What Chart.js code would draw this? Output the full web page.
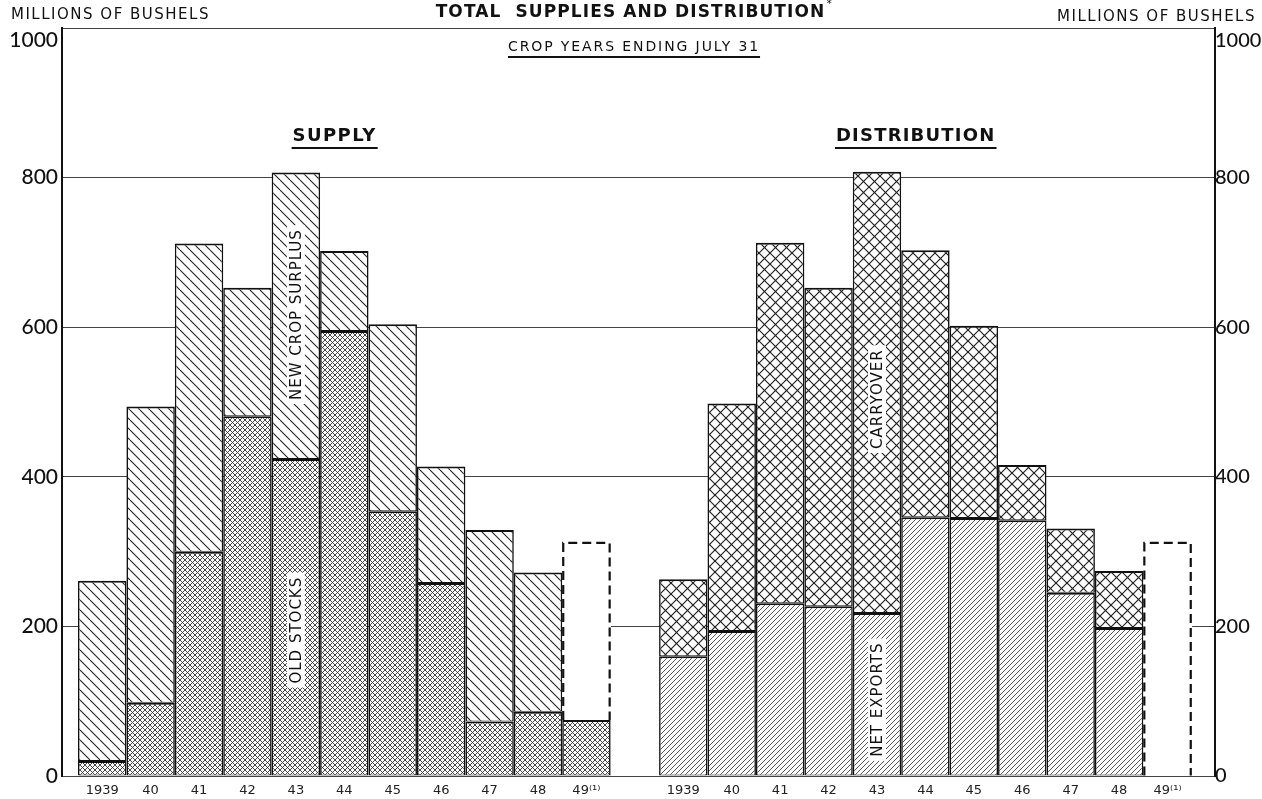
<!DOCTYPE html>
<html>
<head>
<meta charset="utf-8">
<script src="https://cdn.jsdelivr.net/npm/chart.js@4/dist/chart.umd.min.js"></script>
<style>
  html, body { margin: 0; padding: 0; background: #fff; }
  #wrap { width: 1262px; height: 799px; position: relative; }
</style>
</head>
<body>
<div id="wrap"><canvas id="c"></canvas></div>
<script>
// crop years ending July 31, millions of bushels
const categories = ["1939", "40", "41", "42", "43", "44", "45", "46", "47", "48", "49⁽¹⁾"];
const oldStocks      = [20, 98, 300, 481, 424, 595, 354, 258, 73, 86, 75];
const newCropSurplus = [241, 396, 412, 172, 383, 107, 250, 156, 256, 186, null];
const netExports     = [160, 194, 231, 227, 218, 346, 345, 342, 245, 198, null];
const carryover      = [103, 304, 482, 426, 590, 357, 257, 74, 86, 76, null];
const projected49    = 313;   // dashed total for 1949
const yTicks = [0, 200, 400, 600, 800, 1000];

const FONT = "'DejaVu Sans', sans-serif";
const NUMFONT = "Lato, 'Liberation Sans', sans-serif";
const gap = categories.length + 1;          // distribution group starts after one empty slot
const tickPos = categories.map((c, i) => i).concat(categories.map((c, i) => i + gap));
const tickLabels = categories.concat(categories);

function pts(arr, offset) {
  const out = [];
  arr.forEach((v, i) => { if (v !== null) out.push({ x: i + offset, y: v }); });
  return out;
}

const mainCtx = document.getElementById("c").getContext("2d");
function hatch(size, dirs, color, lw) {
  const t = document.createElement("canvas");
  t.width = t.height = size;
  const g = t.getContext("2d");
  g.fillStyle = "#fff";
  g.fillRect(0, 0, size, size);
  g.strokeStyle = color;
  g.lineWidth = lw;
  dirs.forEach(d => {
    [-size, 0, size].forEach(k => {
      g.beginPath();
      if (d === "\\") { g.moveTo(k, 0); g.lineTo(k + size, size); }
      else { g.moveTo(k, size); g.lineTo(k + size, 0); }
      g.stroke();
    });
  });
  return mainCtx.createPattern(t, "repeat");
}

const patSurplus = hatch(10, ["\\"], "#222", 1.1);
const patOld = hatch(5, ["\\", "/"], "#333", 0.9);
const patExports = hatch(5, ["/"], "#444", 0.9);
const patCarry = hatch(11, ["\\", "/"], "#222", 1.2);

const barBorder = { top: 2, bottom: 1, left: 1.6, right: 1.6 };
const common = { borderColor: "#111", borderWidth: barBorder, borderSkipped: false, stack: "all", inflateAmount: 0 };

const data = {
  datasets: [
    Object.assign({ label: "Old stocks", data: pts(oldStocks, 0), backgroundColor: patOld }, common),
    Object.assign({ label: "New crop surplus", data: pts(newCropSurplus, 0), backgroundColor: patSurplus }, common),
    Object.assign({ label: "Net exports", data: pts(netExports, gap), backgroundColor: patExports }, common),
    Object.assign({ label: "Carryover", data: pts(carryover, gap), backgroundColor: patCarry }, common),
    { label: "1949 supply", data: [{ x: categories.length - 1, y: projected49 - oldStocks[categories.length - 1] }],
      backgroundColor: "#fff", borderWidth: 0, stack: "all", dashedOutline: true },
    { label: "1949 distribution", data: [{ x: categories.length - 1 + gap, y: projected49 }],
      backgroundColor: "#fff", borderWidth: 0, stack: "all", dashedOutline: true }
  ]
};

function textLine(ctx, txt, x, y, font, align, spacing) {
  ctx.save();
  ctx.font = font;
  ctx.fillStyle = "#111";
  ctx.textAlign = align || "center";
  ctx.textBaseline = "middle";
  if (spacing) ctx.letterSpacing = spacing + "px";
  ctx.fillText(txt, x, y);
  const w = ctx.measureText(txt).width;
  ctx.restore();
  return w;
}

const decor = {
  id: "decor",
  afterDatasetsDraw(chart) {
    const ctx = chart.ctx;
    chart.data.datasets.forEach((ds, di) => {
      if (!ds.dashedOutline) return;
      chart.getDatasetMeta(di).data.forEach(bar => {
        const p = bar.getProps(["x", "y", "base", "width"], true);
        const l = p.x - p.width / 2 + 1, r = p.x + p.width / 2 - 1;
        ctx.save();
        ctx.setLineDash([9, 5]);
        ctx.lineWidth = 2.2;
        ctx.strokeStyle = "#111";
        ctx.beginPath();
        ctx.moveTo(l, p.base);
        ctx.lineTo(l, p.y + 1);
        ctx.lineTo(r, p.y + 1);
        ctx.lineTo(r, p.base);
        ctx.stroke();
        ctx.restore();
      });
    });

    // labels written inside the 1943 bars
    const xs = chart.scales.x, ys = chart.scales.y;
    const notes = [
      { text: "NEW CROP SURPLUS", i: 4, v: 617 },
      { text: "OLD STOCKS", i: 4, v: 195 },
      { text: "CARRYOVER", i: 4 + gap, v: 504 },
      { text: "NET EXPORTS", i: 4 + gap, v: 102 }
    ];
    notes.forEach(n => {
      const px = xs.getPixelForValue(n.i), py = ys.getPixelForValue(n.v);
      ctx.save();
      ctx.translate(px, py);
      ctx.rotate(-Math.PI / 2);
      ctx.font = "15px " + FONT;
      ctx.letterSpacing = "1px";
      const w = ctx.measureText(n.text).width;
      ctx.fillStyle = "#fff";
      ctx.fillRect(-w / 2 - 4, -9, w + 8, 18);
      ctx.fillStyle = "#111";
      ctx.textAlign = "center";
      ctx.textBaseline = "middle";
      ctx.fillText(n.text, 0, 1);
      ctx.restore();
    });
  },
  afterDraw(chart) {
    const ctx = chart.ctx;
    const xs = chart.scales.x;
    const cx = (chart.chartArea.left + chart.chartArea.right) / 2;

    textLine(ctx, "MILLIONS OF BUSHELS", 11, 15, "15px " + FONT, "left", 1.5);
    textLine(ctx, "MILLIONS OF BUSHELS", 1256, 17, "15px " + FONT, "right", 1.5);

    const tw = textLine(ctx, "TOTAL  SUPPLIES AND DISTRIBUTION", cx - 8, 13, "bold 17px " + FONT, "center", 1.1);
    textLine(ctx, "*", cx - 8 + tw / 2 + 4, 4, "10px " + FONT, "center");

    ctx.save();
    ctx.strokeStyle = "#111";
    ctx.lineWidth = 2;
    const cy = cx - 4.5;
    const w1 = textLine(ctx, "CROP YEARS ENDING JULY 31", cy, 47, "14px " + FONT, "center", 1.9);
    ctx.beginPath(); ctx.moveTo(cy - w1 / 2, 57); ctx.lineTo(cy + w1 / 2, 57); ctx.stroke();

    const sx = xs.getPixelForValue(4.8), dx = xs.getPixelForValue(4.8 + gap);
    const w2 = textLine(ctx, "SUPPLY", sx, 136, "bold 18px " + FONT, "center", 1.4);
    ctx.beginPath(); ctx.moveTo(sx - w2 / 2 - 1, 148); ctx.lineTo(sx + w2 / 2 + 1, 148); ctx.stroke();
    const w3 = textLine(ctx, "DISTRIBUTION", dx, 136, "bold 18px " + FONT, "center", 1.2);
    ctx.beginPath(); ctx.moveTo(dx - w3 / 2 - 1, 148); ctx.lineTo(dx + w3 / 2 + 1, 148); ctx.stroke();
    ctx.restore();
  }
};

function yLabel(v) {
  return v === 1000 ? ["", "1000"] : String(v);
}

const yTickOpts = {
  padding: 1,
  color: "#111",
  font: { family: NUMFONT, size: 21, weight: "500", lineHeight: 1.15 },
  callback: yLabel
};

new Chart(document.getElementById("c"), {
  type: "bar",
  data: data,
  plugins: [decor],
  options: {
    responsive: true,
    maintainAspectRatio: false,
    animation: false,
    barPercentage: 1,
    categoryPercentage: 1,
    layout: { padding: { top: 28, left: 0, right: 0, bottom: 0 } },
    plugins: { legend: { display: false }, tooltip: { enabled: false } },
    scales: {
      x: {
        type: "linear",
        offset: false,
        min: -0.83,
        max: tickLabels.length + 0.98,
        afterBuildTicks: s => { s.ticks = tickPos.map(v => ({ value: v })); },
        afterFit: s => { s.height = 23; },
        grid: { display: false, offset: false },
        border: { display: true, color: "#444", width: 1 },
        ticks: {
          autoSkip: false,
          maxRotation: 0,
          padding: 0,
          color: "#222",
          font: { family: FONT, size: 13, lineHeight: 1.0 },
          callback: (v, i) => tickLabels[i]
        }
      },
      y: {
        position: "left",
        min: 0,
        max: 1000,
        afterBuildTicks: s => { s.ticks = yTicks.map(v => ({ value: v })); },
        afterFit: s => { s.width = 62; },
        grid: { color: "#444", lineWidth: 1, drawTicks: false },
        border: { display: true, color: "#111", width: 2 },
        ticks: Object.assign({}, yTickOpts, { padding: 4 })
      },
      y2: {
        position: "right",
        min: 0,
        max: 1000,
        afterBuildTicks: s => { s.ticks = yTicks.map(v => ({ value: v })); },
        afterFit: s => { s.width = 47; },
        grid: { drawOnChartArea: false, drawTicks: false },
        border: { display: true, color: "#111", width: 2 },
        ticks: Object.assign({}, yTickOpts, {
          padding: 0,
          font: { family: NUMFONT, size: 20, weight: "500", lineHeight: 1.2 }
        })
      }
    }
  }
});
</script>
</body>
</html>
